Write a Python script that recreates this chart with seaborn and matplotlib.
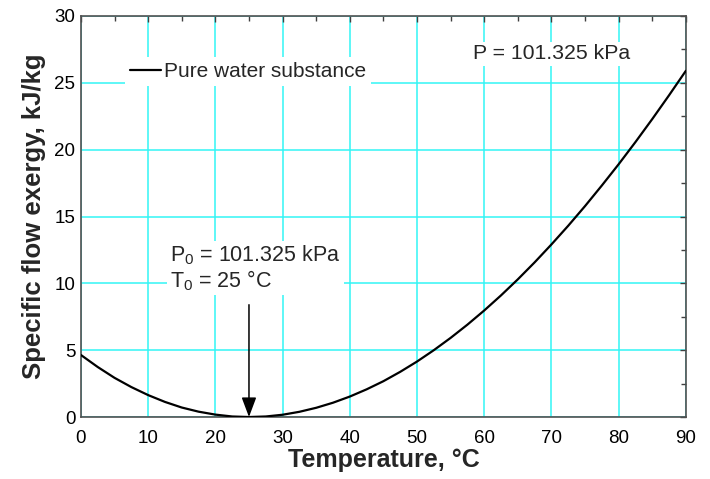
import matplotlib
matplotlib.use("Agg")
import matplotlib.pyplot as plt
import seaborn as sns
import pandas as pd
from matplotlib.ticker import MultipleLocator

# Data
temperature_c = [0, 2.5, 5, 7.5, 10, 12.5, 15, 17.5, 20, 22.5, 25, 27.5, 30, 32.5, 35,
                 37.5, 40, 42.5, 45, 47.5, 50, 52.5, 55, 57.5, 60, 62.5, 65, 67.5,
                 70, 72.5, 75, 77.5, 80, 82.5, 85, 87.5, 90]
exergy_kj_kg = [4.64, 3.74, 2.93, 2.24, 1.64, 1.13, 0.71, 0.40, 0.18, 0.04, 0.0, 0.04,
                0.17, 0.39, 0.69, 1.07, 1.53, 2.07, 2.68, 3.38, 4.15, 5.00, 5.92, 6.91,
                7.97, 9.10, 10.30, 11.57, 12.91, 14.31, 15.78, 17.32, 18.91, 20.57,
                22.29, 24.07, 25.9]
series_label = "Pure water substance"
x_label = "Temperature, °C"
y_label = "Specific flow exergy, kJ/kg"
pressure_text = "P = 101.325 kPa"
dead_state_text = "P$\\mathregular{_0}$ = 101.325 kPa\nT$\\mathregular{_0}$ = 25 °C"
arrow_top = 8.4

sns.set_style("white")
plt.rcParams['font.family'] = ['Liberation Sans', 'DejaVu Sans']
plt.rcParams['mathtext.fontset'] = 'custom'
plt.rcParams['mathtext.rm'] = 'Liberation Sans'

df = pd.DataFrame({"T": temperature_c, "ex": exergy_kj_kg})

fig = plt.figure(figsize=(7.10, 4.79), dpi=100)
ax = fig.add_axes([0.114, 0.1294, 0.852, 0.8372])

sns.lineplot(data=df, x="T", y="ex", ax=ax, color="black", linewidth=1.6,
             label=series_label, zorder=6)

ax.set_xlim(0, 90)
ax.set_ylim(0, 30)
ax.xaxis.set_major_locator(MultipleLocator(10))
ax.xaxis.set_minor_locator(MultipleLocator(5))
ax.yaxis.set_major_locator(MultipleLocator(5))
ax.yaxis.set_minor_locator(MultipleLocator(2.5))
ax.grid(True, which='major', color='#33F5F5', linewidth=1.1, zorder=0)
ax.set_axisbelow(True)

ax.tick_params(which='both', direction='in', top=True, right=True,
               labelsize=13.5, colors='#404040', labelcolor='black')
ax.tick_params(which='major', length=4, width=1)
ax.tick_params(which='minor', length=3.5, width=1)
ax.tick_params(axis='x', which='both', pad=9)
ax.tick_params(axis='y', which='both', pad=4)
for s in ax.spines.values():
    s.set_color('#505050')
    s.set_linewidth(1.2)
    s.set_zorder(5)

ax.set_xlabel(x_label, fontsize=18, fontweight='bold', labelpad=1)
ax.set_ylabel(y_label, fontsize=18.5, fontweight='bold', labelpad=6)

leg = ax.legend(loc='upper left', bbox_to_anchor=(0.073, 0.898), frameon=True,
                fancybox=False, fontsize=15, handlelength=1.45, handletextpad=0.15,
                borderpad=0.25, borderaxespad=0)
leg.get_frame().set_facecolor('white')
leg.get_frame().set_edgecolor('none')
leg.get_frame().set_alpha(1)
leg.set_zorder(7)

ax.text(58.4, 27.16, pressure_text, fontsize=15.3, ha='left', va='center',
        bbox=dict(facecolor='white', edgecolor='none', pad=2), zorder=4)
ax.text(13.25, 11.15, dead_state_text, fontsize=15.5, ha='left', va='center',
        linespacing=1.05,
        bbox=dict(facecolor='white', edgecolor='none', pad=2), zorder=4)
ax.annotate('', xy=(25, 0), xytext=(25, arrow_top),
            arrowprops=dict(arrowstyle='-|>,head_length=0.8,head_width=0.3',
                            color='black', lw=1.1, mutation_scale=15,
                            shrinkA=0, shrinkB=0), zorder=7)

fig.savefig("out.png", dpi=100)
